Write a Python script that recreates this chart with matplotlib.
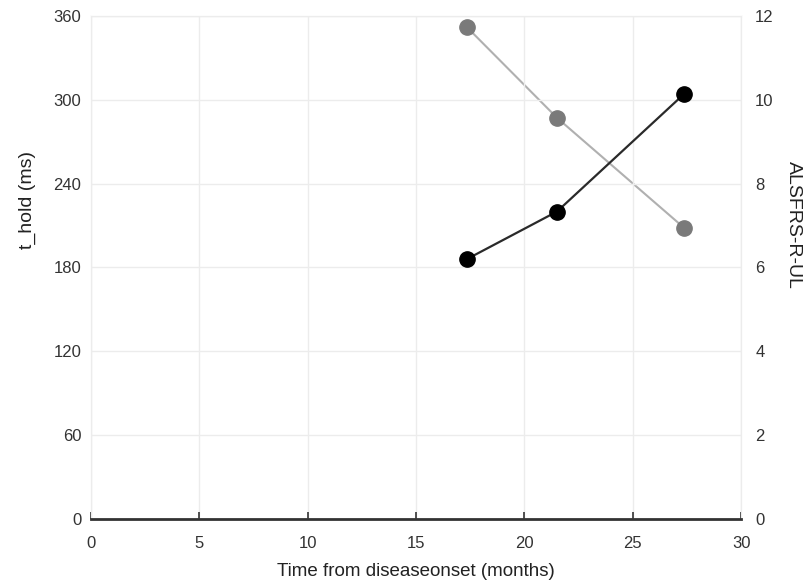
import numpy as np
import matplotlib.pyplot as plt

plt.rcParams['font.family'] = ['Liberation Sans', 'DejaVu Sans']

# data
months = [17.35, 21.5, 27.35]
t_hold = [186, 220, 304]
alsfrs = [11.73, 9.57, 6.95]

x_ticks = [0, 5, 10, 15, 20, 25, 30]
left_ticks = [0, 60, 120, 180, 240, 300, 360]
right_ticks = [0, 2, 4, 6, 8, 10, 12]

fig = plt.figure(figsize=(8.04, 5.83), dpi=100)
ax = fig.add_axes([0.113, 0.110, 0.809, 0.8626])
ax2 = ax.twinx()

# grey series on the right axis, drawn under the black one
ax2.plot(months, alsfrs, color='#b0b0b0', lw=1.5, zorder=2)
ax2.plot(months, alsfrs, 'o', color='#7a7a7a', ms=11, zorder=3)
ax.set_zorder(ax2.get_zorder() + 1)
ax.patch.set_visible(False)
ax.plot(months, t_hold, color='#2a2a2a', lw=1.6, zorder=2)
ax.plot(months, t_hold, 'o', color='black', ms=11, zorder=3)

ax.set_xlim(0, 30)
ax.set_ylim(0, 360)
ax2.set_ylim(0, 12)
ax.set_xticks(x_ticks)
ax.set_yticks(left_ticks)
ax2.set_yticks(right_ticks)

ax.grid(True, color='#ececec', lw=1)
ax.set_axisbelow(True)

for a in (ax, ax2):
    for s in ('left', 'right', 'top'):
        a.spines[s].set_color('#ececec')
    a.spines['bottom'].set_visible(False)
ax.spines['bottom'].set_visible(True)
ax.spines['bottom'].set_color('#333333')
ax.spines['bottom'].set_linewidth(2)

ax.tick_params(axis='x', direction='in', length=5, width=1.2, color='#333333',
               labelsize=12, labelcolor='#333333', pad=12)
ax.tick_params(axis='y', length=0, labelsize=12, labelcolor='#333333', pad=7)
ax2.tick_params(axis='y', length=0, labelsize=12, labelcolor='#333333', pad=10)

ax.set_xlabel('Time from diseaseonset (months)', fontsize=13.5, color='#222222')
ax.set_ylabel('t_hold (ms)', fontsize=14, color='#222222')
ax2.set_ylabel('ALSFRS-R-UL', fontsize=14, color='#222222', rotation=-90, va='center')
ax.xaxis.set_label_coords(0.5, -0.087)
ax.yaxis.set_label_coords(-0.084, 0.634)
ax2.yaxis.set_label_coords(1.08, 0.585)

fig.savefig('out.png', dpi=100)
